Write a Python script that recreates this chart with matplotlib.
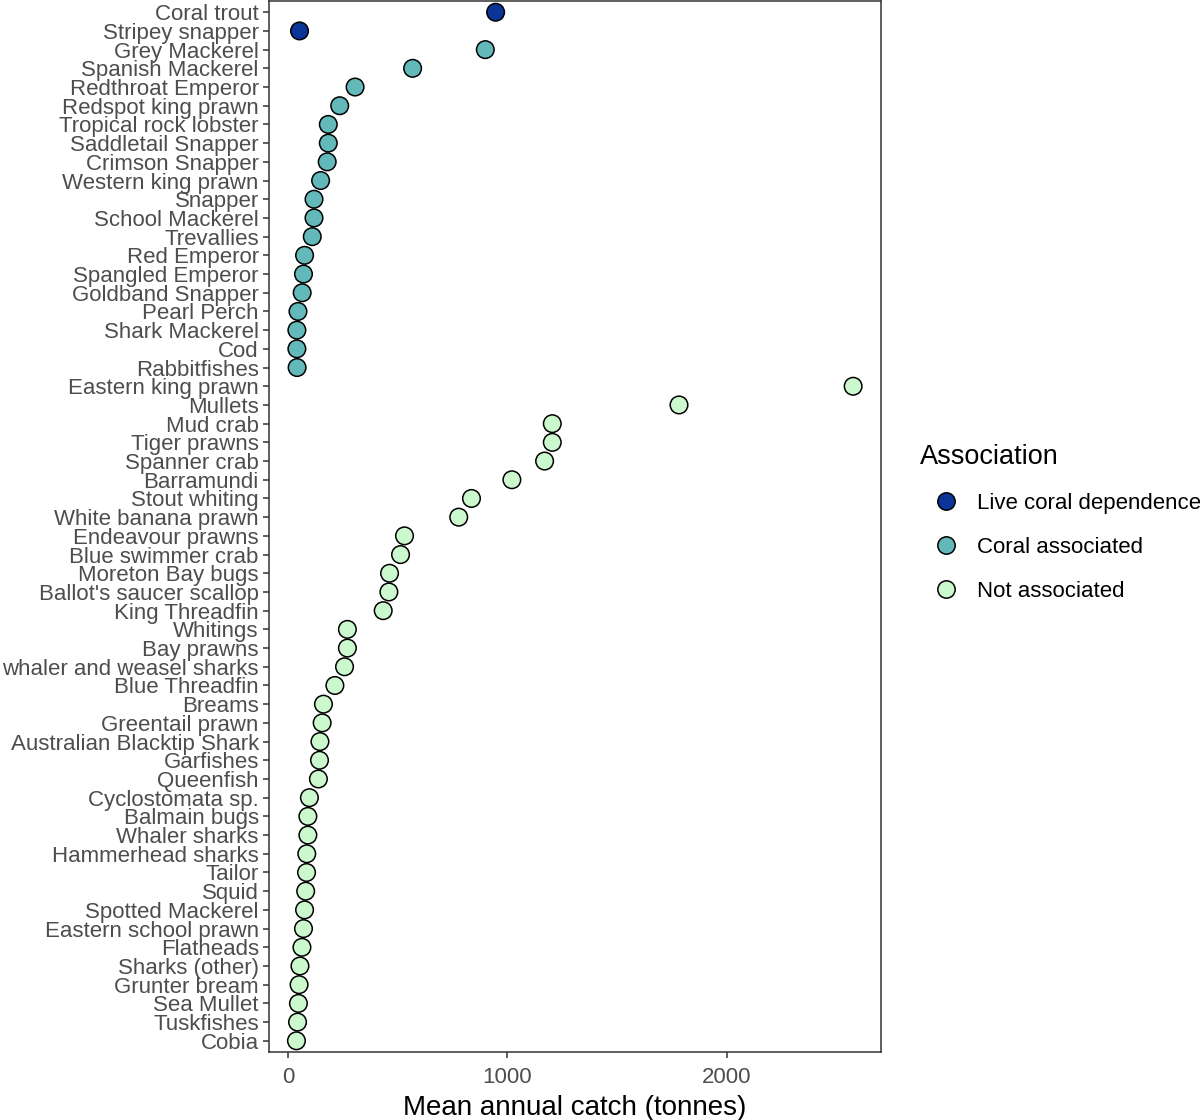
import matplotlib
matplotlib.use('Agg')
import matplotlib.pyplot as plt
from matplotlib.lines import Line2D

plt.rcParams['font.family'] = ['Liberation Sans', 'DejaVu Sans']

# species listed top to bottom, as in the chart
species = [
    'Coral trout', 'Stripey snapper',
    'Grey Mackerel', 'Spanish Mackerel', 'Redthroat Emperor', 'Redspot king prawn',
    'Tropical rock lobster', 'Saddletail Snapper', 'Crimson Snapper', 'Western king prawn',
    'Snapper', 'School Mackerel', 'Trevallies', 'Red Emperor', 'Spangled Emperor',
    'Goldband Snapper', 'Pearl Perch', 'Shark Mackerel', 'Cod', 'Rabbitfishes',
    'Eastern king prawn', 'Mullets', 'Mud crab', 'Tiger prawns', 'Spanner crab',
    'Barramundi', 'Stout whiting', 'White banana prawn', 'Endeavour prawns',
    'Blue swimmer crab', 'Moreton Bay bugs', "Ballot's saucer scallop", 'King Threadfin',
    'Whitings', 'Bay prawns', 'whaler and weasel sharks', 'Blue Threadfin', 'Breams',
    'Greentail prawn', 'Australian Blacktip Shark', 'Garfishes', 'Queenfish',
    'Cyclostomata sp.', 'Balmain bugs', 'Whaler sharks', 'Hammerhead sharks', 'Tailor',
    'Squid', 'Spotted Mackerel', 'Eastern school prawn', 'Flatheads', 'Sharks (other)',
    'Grunter bream', 'Sea Mullet', 'Tuskfishes', 'Cobia',
]
catch = [
    946, 53,
    899, 568, 306, 236,
    184, 184, 179, 149,
    119, 119, 111, 76, 71,
    65, 46, 41, 41, 42,
    2574, 1781, 1204, 1204, 1169,
    1020, 836, 778, 531,
    513, 463, 460, 434,
    271, 271, 258, 214, 162,
    156, 146, 144, 139,
    98, 91, 91, 86, 85,
    81, 76, 71, 64, 55,
    51, 48, 44, 39,
]
association = (['Live coral dependence'] * 2 + ['Coral associated'] * 18
               + ['Not associated'] * 36)

groups = ['Live coral dependence', 'Coral associated', 'Not associated']
group_colors = ['#0b3497', '#63b9b9', '#ccf8cd']

n = len(species)
ypos = [n - i for i in range(n)]
color_of = dict(zip(groups, group_colors))

fig = plt.figure(figsize=(12, 11.2), dpi=100)
ax = fig.add_axes([0.2238, 0.0607, 0.5104, 0.9384])

ax.scatter(catch, ypos, s=160, c=[color_of[a] for a in association],
           edgecolors='black', linewidths=1.1, zorder=3)

ax.set_ylim(0.4, n + 0.6)
ax.set_xlim(-88, 2701)
ax.set_yticks(ypos)
ax.set_yticklabels(species)
ax.set_xticks([0, 1000, 2000])
ax.tick_params(axis='both', labelsize=16, labelcolor='#4d4d4d',
               color='#333333', length=4, width=1.1)
ax.tick_params(axis='y', pad=3)
ax.tick_params(axis='x', pad=7)
for sp in ax.spines.values():
    sp.set_color('#333333')
    sp.set_linewidth(1.1)
ax.set_xlabel('Mean annual catch (tonnes)', fontsize=20, labelpad=5)

handles = [Line2D([], [], ls='', marker='o', markersize=12.5,
                  markerfacecolor=c, markeredgecolor='black', markeredgewidth=1.1)
           for c in group_colors]
leg = fig.legend(handles, groups, title='Association', loc='upper left',
                 bbox_to_anchor=(914 / 1200, 1 - 438 / 1120), frameon=False,
                 fontsize=16, title_fontsize=19.5, borderpad=0.27, borderaxespad=0,
                 handlelength=2.3, handletextpad=0.25, labelspacing=1.03,
                 alignment='left')

fig.savefig('out.png', dpi=100)
